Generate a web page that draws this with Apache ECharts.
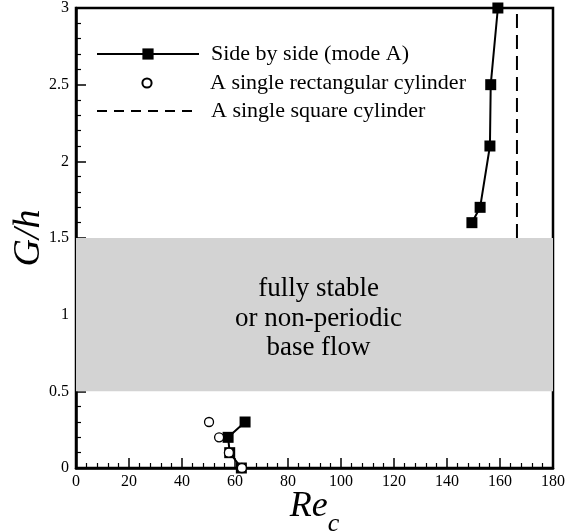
<!DOCTYPE html>
<html>
<head>
<meta charset="utf-8">
<script src="https://cdn.jsdelivr.net/npm/echarts@6/dist/echarts.min.js"></script>
<style>
  html, body { margin: 0; padding: 0; background: #fff; }
  #chart { width: 567px; height: 531px; }
</style>
</head>
<body>
<div id="chart"></div>
<script>
// Critical Reynolds number vs. gap ratio
const sideBySideLow = [[63.8, 0.3], [57.4, 0.2], [58.0, 0.1], [62.4, 0.0]];
const sideBySideHigh = [[149.4, 1.6], [152.5, 1.7], [156.2, 2.1], [156.5, 2.5], [159.2, 3.0]];
const singleRect = [[50.2, 0.3], [54.0, 0.2], [57.7, 0.1], [62.6, 0.0]];
const singleSquareRe = 166.4;
const singleSquareRange = [1.5, 3.0];
const stableBand = [0.5, 1.5];
const xTicks = { min: 0, max: 180, step: 20 };
const yTicks = { min: 0, max: 3, step: 0.5 };

const serif = '"Liberation Serif", "DejaVu Serif", serif';
const names = ['Side by side (mode A)', 'A single rectangular cylinder', 'A single square cylinder'];
const legendText = { fontFamily: serif, fontSize: 22, color: '#000', padding: [0, 0, 0, 7] };

const chart = echarts.init(document.getElementById('chart'));
chart.setOption({
  animation: false,
  backgroundColor: '#fff',
  grid: {
    left: 76, right: 14, top: 8, bottom: 63,
    containLabel: false, outerBoundsMode: 'none',
    show: true, borderColor: '#000', borderWidth: 2.5, backgroundColor: 'transparent'
  },
  legend: [
    { data: [names[0]], left: 91, top: 38, itemWidth: 102, itemHeight: 14, textStyle: legendText },
    { data: [names[1]], left: 91, top: 67, itemWidth: 102, itemHeight: 11.5, textStyle: legendText },
    { data: [{ name: names[2], itemStyle: { color: 'rgba(0,0,0,0)', borderWidth: 0 }, lineStyle: { type: [10, 7] } }],
      left: 91, top: 95, itemWidth: 102, itemHeight: 14, textStyle: legendText }
  ],
  xAxis: {
    type: 'value', min: xTicks.min, max: xTicks.max, interval: xTicks.step,
    name: '{a|Re}{b|c}', nameLocation: 'middle', nameGap: 9, nameMoveOverlap: false,
    nameTextStyle: {
      rich: {
        a: { fontFamily: serif, fontStyle: 'italic', fontSize: 36, color: '#000' },
        b: { fontFamily: serif, fontStyle: 'italic', fontSize: 26, color: '#000', padding: [34, 0, 0, 0] }
      }
    },
    axisLine: { lineStyle: { color: '#000', width: 2.5 } },
    axisTick: { inside: true, length: 10, lineStyle: { color: '#000', width: 1.5 } },
    minorTick: { show: true, splitNumber: 5, length: 5, lineStyle: { color: '#000', width: 1.2 } },
    axisLabel: { fontFamily: serif, fontSize: 16, color: '#000', margin: 6 },
    splitLine: { show: false }
  },
  yAxis: {
    type: 'value', min: yTicks.min, max: yTicks.max, interval: yTicks.step,
    name: 'G/h', nameLocation: 'middle', nameGap: 28, nameMoveOverlap: false,
    nameTextStyle: { fontFamily: serif, fontStyle: 'italic', fontSize: 38, color: '#000' },
    axisLine: { lineStyle: { color: '#000', width: 2.5 } },
    axisTick: { inside: true, length: 10, lineStyle: { color: '#000', width: 1.5 } },
    minorTick: { show: true, splitNumber: 5, length: 5, lineStyle: { color: '#000', width: 1.2 } },
    axisLabel: { fontFamily: serif, fontSize: 16, color: '#000', margin: 7 },
    splitLine: { show: false }
  },
  series: [
    {
      name: names[0], type: 'line', data: sideBySideLow, z: 3,
      symbol: 'rect', symbolSize: 11, clip: false,
      itemStyle: { color: '#000' }, lineStyle: { color: '#000', width: 2 },
      markArea: {
        silent: true,
        itemStyle: { color: '#d3d3d3' },
        label: {
          show: true, position: 'inside', offset: [4, 4],
          fontFamily: serif, fontSize: 27, lineHeight: 29.5, color: '#000', align: 'center',
          formatter: 'fully stable\nor non-periodic\nbase flow'
        },
        data: [[{ yAxis: stableBand[0] }, { yAxis: stableBand[1] }]]
      }
    },
    {
      name: names[0], type: 'line', data: sideBySideHigh, z: 3,
      symbol: 'rect', symbolSize: 11, clip: false,
      itemStyle: { color: '#000' }, lineStyle: { color: '#000', width: 2 }
    },
    {
      // markers only: the connecting line is hidden
      name: names[1], type: 'line', data: singleRect, z: 4,
      symbol: 'circle', symbolSize: 9, clip: false,
      itemStyle: { color: '#fff', borderColor: '#000', borderWidth: 1.3 },
      lineStyle: { width: 0, opacity: 0 }
    },
    {
      name: names[2], type: 'line', z: 2, showSymbol: false, symbol: 'none',
      data: singleSquareRange.map(g => [singleSquareRe, g]),
      itemStyle: { color: '#000' },
      lineStyle: { color: '#000', width: 2, type: [14, 7] }
    }
  ]
});
</script>
</body>
</html>
